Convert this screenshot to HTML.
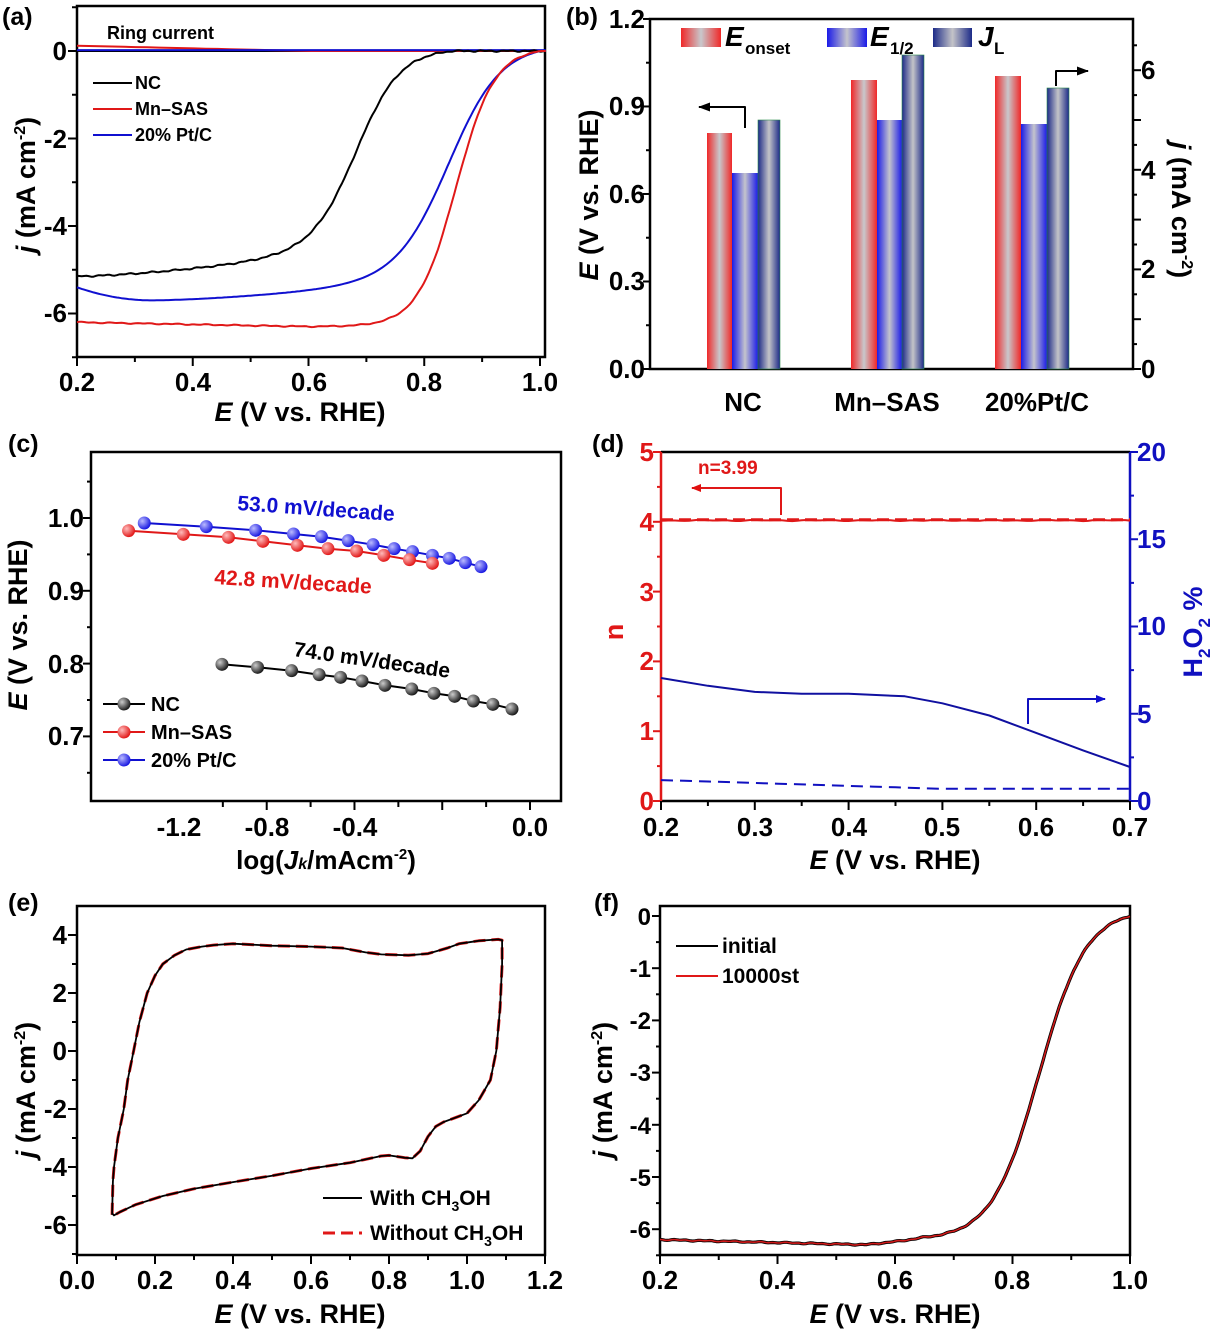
<!DOCTYPE html>
<html><head><meta charset="utf-8"><style>
html,body{margin:0;padding:0;background:#fff;}
svg{display:block;font-family:"Liberation Sans",Arial,sans-serif;font-weight:bold;}
</style></head><body>
<svg id="s" width="1216" height="1333" viewBox="0 0 1216 1333" xmlns="http://www.w3.org/2000/svg">
<defs>
<linearGradient id="gr" x1="0" x2="1"><stop offset="0" stop-color="#f02828"/><stop offset="0.5" stop-color="#c8c8cc"/><stop offset="1" stop-color="#f02828"/></linearGradient>
<linearGradient id="gb" x1="0" x2="1"><stop offset="0" stop-color="#1a1ae8"/><stop offset="0.5" stop-color="#c4c4cc"/><stop offset="1" stop-color="#1a1ae8"/></linearGradient>
<linearGradient id="gd" x1="0" x2="1"><stop offset="0" stop-color="#1c2a88"/><stop offset="0.5" stop-color="#c4c4c8"/><stop offset="1" stop-color="#1c2a88"/></linearGradient>
<radialGradient id="mk" cx="0.35" cy="0.35" r="0.7"><stop offset="0" stop-color="#ccc"/><stop offset="1" stop-color="#111"/></radialGradient>
<radialGradient id="mr" cx="0.35" cy="0.35" r="0.7"><stop offset="0" stop-color="#fbb"/><stop offset="1" stop-color="#e01010"/></radialGradient>
<radialGradient id="mb" cx="0.35" cy="0.35" r="0.7"><stop offset="0" stop-color="#bbf"/><stop offset="1" stop-color="#1010e0"/></radialGradient>
<marker id="ahr" markerWidth="10" markerHeight="8" refX="9" refY="4" orient="auto" markerUnits="userSpaceOnUse"><path d="M0,0 L10,4 L0,8 Z" fill="#e01010"/></marker>
<marker id="ahb" markerWidth="10" markerHeight="8" refX="9" refY="4" orient="auto" markerUnits="userSpaceOnUse"><path d="M0,0 L10,4 L0,8 Z" fill="#1010d0"/></marker>
<marker id="ahk" markerWidth="12" markerHeight="9" refX="11" refY="4.5" orient="auto" markerUnits="userSpaceOnUse"><path d="M0,0 L12,4.5 L0,9 Z" fill="#000"/></marker>
</defs>
<g id="dyn"></g>

<!-- Panel letters -->
<g font-size="25">
<text x="2" y="25">(a)</text>
<text x="566" y="25">(b)</text>
<text x="8" y="452">(c)</text>
<text x="592" y="452">(d)</text>
<text x="8" y="911">(e)</text>
<text x="594" y="911">(f)</text>
</g>

<!-- Panel a text -->
<g font-size="26" text-anchor="middle">
<text x="77" y="391">0.2</text><text x="193" y="391">0.4</text><text x="309" y="391">0.6</text><text x="424" y="391">0.8</text><text x="540" y="391">1.0</text>
</g>
<g font-size="26" text-anchor="end">
<text x="67" y="60">0</text><text x="67" y="148">-2</text><text x="67" y="235">-4</text><text x="67" y="322">-6</text>
</g>
<text x="300" y="421" font-size="27" text-anchor="middle"><tspan font-style="italic">E</tspan> (V vs. RHE)</text>
<text transform="translate(35,185) rotate(-90)" font-size="27" text-anchor="middle"><tspan font-style="italic">j</tspan> (mA cm<tspan dy="-10" font-size="16">-2</tspan><tspan dy="10">)</tspan></text>
<text x="107" y="39" font-size="18">Ring current</text>
<g font-size="18"><text x="135" y="89">NC</text><text x="135" y="115">Mn–SAS</text><text x="135" y="141">20% Pt/C</text></g>

<!-- Panel b text -->
<g font-size="26" text-anchor="end">
<text x="645" y="378">0.0</text><text x="645" y="290">0.3</text><text x="645" y="203">0.6</text><text x="645" y="115">0.9</text><text x="645" y="28">1.2</text>
</g>
<g font-size="26">
<text x="1141" y="378">0</text><text x="1141" y="278">2</text><text x="1141" y="179">4</text><text x="1141" y="79">6</text>
</g>
<g font-size="26" text-anchor="middle">
<text x="743" y="411">NC</text><text x="887" y="411">Mn–SAS</text><text x="1037" y="411">20%Pt/C</text>
</g>
<text transform="translate(598,195) rotate(-90)" font-size="27" text-anchor="middle"><tspan font-style="italic">E</tspan> (V vs. RHE)</text>
<text transform="translate(1172,210) rotate(90)" font-size="27" text-anchor="middle"><tspan font-style="italic">j</tspan> (mA cm<tspan dy="-10" font-size="16">-2</tspan><tspan dy="10">)</tspan></text>
<text x="725" y="46" font-size="28" font-style="italic">E</text><text x="745" y="54" font-size="17">onset</text>
<text x="870" y="46" font-size="28" font-style="italic">E</text><text x="890" y="54" font-size="17">1/2</text>
<text x="978" y="46" font-size="28" font-style="italic">J</text><text x="994" y="54" font-size="17">L</text>

<!-- Panel c text -->
<g font-size="26" text-anchor="middle">
<text x="179" y="836">-1.2</text><text x="267" y="836">-0.8</text><text x="355" y="836">-0.4</text><text x="530" y="836" text-anchor="middle">0.0</text>
</g>
<g font-size="26" text-anchor="end">
<text x="84" y="527">1.0</text><text x="84" y="600">0.9</text><text x="84" y="673">0.8</text><text x="84" y="745">0.7</text>
</g>
<text x="326" y="869" font-size="26" text-anchor="middle">log(<tspan font-style="italic">J<tspan font-size="16">k</tspan></tspan>/mAcm<tspan dy="-10" font-size="15">-2</tspan><tspan dy="10">)</tspan></text>
<text transform="translate(27,625) rotate(-90)" font-size="27" text-anchor="middle"><tspan font-style="italic">E</tspan> (V vs. RHE)</text>
<text transform="translate(237,510) rotate(4)" font-size="21" fill="#1010d0">53.0 mV/decade</text>
<text transform="translate(214,584) rotate(3.5)" font-size="21" fill="#e01818">42.8 mV/decade</text>
<text transform="translate(293,656) rotate(8)" font-size="21">74.0 mV/decade</text>
<g font-size="20"><text x="151" y="711">NC</text><text x="151" y="739">Mn–SAS</text><text x="151" y="767">20% Pt/C</text></g>

<!-- Panel d text -->
<g font-size="26" text-anchor="middle">
<text x="661" y="836">0.2</text><text x="755" y="836">0.3</text><text x="849" y="836">0.4</text><text x="942" y="836">0.5</text><text x="1036" y="836">0.6</text><text x="1130" y="836">0.7</text>
</g>
<g font-size="26" text-anchor="end" fill="#e01818">
<text x="654" y="810">0</text><text x="654" y="740">1</text><text x="654" y="670">2</text><text x="654" y="601">3</text><text x="654" y="531">4</text><text x="654" y="461">5</text>
</g>
<g font-size="26" fill="#1010c0">
<text x="1137" y="810">0</text><text x="1137" y="723">5</text><text x="1137" y="635">10</text><text x="1137" y="548">15</text><text x="1137" y="461">20</text>
</g>
<text x="895" y="869" font-size="27" text-anchor="middle"><tspan font-style="italic">E</tspan> (V vs. RHE)</text>
<text transform="translate(623,632) rotate(-90)" font-size="27" text-anchor="middle" fill="#e01818">n</text>
<text transform="translate(1202,632) rotate(-90)" font-size="27" text-anchor="middle" fill="#1010c0">H<tspan dy="8" font-size="17">2</tspan><tspan dy="-8">O</tspan><tspan dy="8" font-size="17">2</tspan><tspan dy="-8"> %</tspan></text>
<text x="698" y="474" font-size="19" fill="#e01818">n=3.99</text>

<!-- Panel e text -->
<g font-size="26" text-anchor="middle">
<text x="77" y="1289">0.0</text><text x="155" y="1289">0.2</text><text x="233" y="1289">0.4</text><text x="311" y="1289">0.6</text><text x="389" y="1289">0.8</text><text x="467" y="1289">1.0</text><text x="545" y="1289">1.2</text>
</g>
<g font-size="26" text-anchor="end">
<text x="67" y="944">4</text><text x="67" y="1002">2</text><text x="67" y="1060">0</text><text x="67" y="1118">-2</text><text x="67" y="1176">-4</text><text x="67" y="1234">-6</text>
</g>
<text x="300" y="1323" font-size="27" text-anchor="middle"><tspan font-style="italic">E</tspan> (V vs. RHE)</text>
<text transform="translate(35,1090) rotate(-90)" font-size="27" text-anchor="middle"><tspan font-style="italic">j</tspan> (mA cm<tspan dy="-10" font-size="16">-2</tspan><tspan dy="10">)</tspan></text>
<text x="370" y="1205" font-size="21">With CH<tspan dy="6" font-size="14">3</tspan><tspan dy="-6">OH</tspan></text>
<text x="370" y="1240" font-size="21">Without CH<tspan dy="6" font-size="14">3</tspan><tspan dy="-6">OH</tspan></text>

<!-- Panel f text -->
<g font-size="24" text-anchor="end">
<text x="651" y="925">0</text><text x="651" y="977">-1</text><text x="651" y="1029">-2</text><text x="651" y="1081">-3</text><text x="651" y="1134">-4</text><text x="651" y="1186">-5</text><text x="651" y="1238">-6</text>
</g>
<g font-size="26" text-anchor="middle">
<text x="660" y="1289">0.2</text><text x="777" y="1289">0.4</text><text x="895" y="1289">0.6</text><text x="1012" y="1289">0.8</text><text x="1130" y="1289">1.0</text>
</g>
<text x="895" y="1323" font-size="27" text-anchor="middle"><tspan font-style="italic">E</tspan> (V vs. RHE)</text>
<text transform="translate(612,1090) rotate(-90)" font-size="27" text-anchor="middle"><tspan font-style="italic">j</tspan> (mA cm<tspan dy="-10" font-size="16">-2</tspan><tspan dy="10">)</tspan></text>
<g font-size="21"><text x="722" y="953">initial</text><text x="722" y="983">10000st</text></g>
</svg>
<script>
(function(){
var NS="http://www.w3.org/2000/svg",g=document.getElementById("dyn");
function el(t,a){var e=document.createElementNS(NS,t);for(var k in a)e.setAttribute(k,a[k]);g.appendChild(e);return e;}
function line(x1,y1,x2,y2,c,w,extra){var a={x1:x1,y1:y1,x2:x2,y2:y2,stroke:c||"#000","stroke-width":w||2};if(extra)for(var k in extra)a[k]=extra[k];return el("line",a);}
function path(pts,c,w,extra){var d="";pts.forEach(function(p,i){d+=(i?"L":"M")+p[0].toFixed(1)+","+p[1].toFixed(1);});var a={d:d,fill:"none",stroke:c,"stroke-width":w||2,"stroke-linejoin":"round"};if(extra)for(var k in extra)a[k]=extra[k];return el("path",a);}
function fn(f,X,Y,a,b,n,c,w,extra){var p=[];for(var i=0;i<=n;i++){var E=a+(b-a)*i/n;p.push([X(E),Y(f(E))]);}return path(p,c,w,extra);}
function sig(E,c,w){return 1/(1+Math.exp((E-c)/w));}
function noise(E,s,a){return a*Math.sin(E*s)*Math.sin(E*s*2.7);}
function box(x1,y1,x2,y2,c){el("rect",{x:x1,y:y1,width:x2-x1,height:y2-y1,fill:"none",stroke:c||"#000","stroke-width":2.5});}
var S=2.6133;

// ===== Panel a =====
var Xa=function(E){return 77+(E-0.2)*578.75},Ya=function(j){return 51-j*43.75};
box(77,6,545,357);
for(var k=0;k<=8;k++){var x=Xa(0.2+k*0.1);line(x,357,x,(k%2==0)?366:362);}
for(var j=0;j>=-7;j--){line(77,Ya(j),(j%2==0)?68:72,Ya(j));}
line(77,Ya(1),72,Ya(1));
fn(function(E){return 0;},Xa,Ya,0.2,1.01,10,"#000",2);
fn(function(E){return E<0.6?0.12*(0.6-E)/0.4:0;},Xa,Ya,0.2,1.01,40,"#e01818",2);
fn(function(E){return 0.02;},Xa,Ya,0.2,1.01,10,"#1010d0",2);
fn(function(E){var L=-5.15+0.9*Math.pow(E-0.2,1.5)*2.2;return L*(sig(E,0.685,0.038)-sig(0.85,0.685,0.038))/(1-sig(0.85,0.685,0.038))*(E>0.85?0:1)+noise(E,90,0.02);},Xa,Ya,0.2,1.01,200,"#000",2);
fn(function(E){var L=E<0.33?-5.7+17.7*Math.pow(E-0.33,2):-5.7+1.5*Math.pow(E-0.33,1.5);var s0=sig(1.0,0.845,0.045);var s=(sig(E,0.845,0.045)-s0)/(1-s0);return E>1.0?0:L*s;},Xa,Ya,0.2,1.01,200,"#1010d0",2);
fn(function(E){var L=-6.2-0.1*Math.min(1,(E-0.2)/0.4);var s0=sig(1.0,0.855,0.033);var s=(sig(E,0.855,0.033)-s0)/(1-s0);return E>1.0?0:L*s+noise(E,70,0.015);},Xa,Ya,0.2,1.01,200,"#e01818",2);
line(93,83,132,83,"#000",2);line(93,109,132,109,"#e01818",2);line(93,135,132,135,"#1010d0",2);

// ===== Panel b =====
box(650,19,1133,369);
var Yl=function(v){return 369-v*291.7},Yr=function(j){return 369-j*49.8};
for(var k=0;k<=8;k++){var y=Yl(k*0.15);line(650,y,k%2==0?643:646,y);}
for(var k=0;k<=13;k++){var y=Yr(k*0.5);if(y<19)break;line(1133,y,(k%2==0)?1141:1137,y);}
function bar(x1,x2,top,id){el("rect",{x:x1,y:top,width:x2-x1,height:369-top,fill:"url(#"+id+")",stroke:id=="gd"?"#2a8a4a":"none","stroke-width":0.6});}
bar(707,732,133,"gr");bar(732,758,173,"gb");bar(758,780,120,"gd");
bar(851,877,80,"gr");bar(877,902,120,"gb");bar(902,924,55,"gd");
bar(995,1021,76,"gr");bar(1021,1047,124,"gb");bar(1047,1069,88,"gd");
el("rect",{x:681,y:28,width:40,height:19,fill:"url(#gr)"});
el("rect",{x:827,y:28,width:40,height:19,fill:"url(#gb)"});
el("rect",{x:933,y:28,width:39,height:19,fill:"url(#gd)"});
path([[745,128],[745,107],[699,107]],"#000",2,{"marker-end":"url(#ahk)"});
path([[1056,86],[1056,71],[1088,71]],"#000",2,{"marker-end":"url(#ahk)"});

// ===== Panel c =====
box(91,452,561,801);
var Xc=function(L){return 530+L*219.4},Yc=function(E){return 518-(E-1.0)*728};
for(var k=-7;k<=0;k++){var x=Xc(k*0.2);line(x,801,x,(k%2==0)?810:807);}
for(var k=1;k<=9;k++){var y=Yc(0.6+k*0.05);if(y<452)break;line(91,y,(k%2==0)?83:87,y);}
function series(xs,ys,c,m){var p=xs.map(function(x,i){return [x/S,420+ys[i]/3];});path(p,c,2);p.forEach(function(q){el("circle",{cx:q[0],cy:q[1],r:6.5,fill:"url(#"+m+")"});});}
series([377,539,668,767,840,910,975,1030,1078,1130,1174,1216,1257],[309,320,331,342,350,362,374,386,395,406,415,428,440],"#1010d0","mb");
series([336,479,597,687,777,857,932,1003,1070,1130],[332,343,352,364,376,386,393,406,419,430],"#e01818","mr");
series([580,673,762,834,890,946,1006,1076,1134,1188,1237,1288,1338],[733,742,752,764,772,783,796,807,820,829,843,853,867],"#000","mk");
[["#000","mk",704],["#e01818","mr",732],["#1010d0","mb",760]].forEach(function(a){line(103,a[2],145,a[2],a[0],2);el("circle",{cx:124,cy:a[2],r:6.5,fill:"url(#"+a[1]+")"});});

// ===== Panel d =====
var Xd=function(E){return 661+(E-0.2)*938},Yn=function(n){return 801-n*69.8},Yh=function(h){return 801-h*17.45};
line(661,452,1130,452,"#000",2.5);line(661,801,1130,801,"#000",2.5);
line(661,452,661,801,"#e01818",2.5);line(1130,452,1130,801,"#1010c0",2.5);
for(var k=0;k<=10;k++){var y=Yn(k*0.5);line(661,y,(k%2==0)?653:657,y,"#e01818",2);}
for(var k=0;k<=8;k++){var y=Yh(k*2.5);line(1130,y,(k%2==0)?1138:1134,y,"#1010c0",2);}
for(var k=0;k<=10;k++){var x=Xd(0.2+k*0.05);line(x,801,x,(k%2==0)?810:806);}
fn(function(E){return 4.02+noise(E,60,0.01);},Xd,Yn,0.2,0.7,100,"#e01818",2);
fn(function(E){return 4.03;},Xd,Yn,0.2,0.7,10,"#e01818",3,{"stroke-dasharray":"12,6"});
var hp=[[0.2,7.05],[0.25,6.6],[0.3,6.25],[0.35,6.15],[0.4,6.15],[0.46,6.0],[0.5,5.6],[0.55,4.9],[0.6,3.9],[0.65,2.9],[0.7,1.95]];
path(hp.map(function(p){return [Xd(p[0]),Yh(p[1])];}),"#1010a0",2);
fn(function(E){return E<0.5?1.2-0.5*(E-0.2)/0.3:0.7;},Xd,Yh,0.2,0.7,20,"#1010c0",2,{"stroke-dasharray":"12,7"});
path([[781,515],[781,488],[692,488]],"#e01818",2,{"marker-end":"url(#ahr)"});
path([[1028,724],[1028,699],[1105,699]],"#1010c0",2,{"marker-end":"url(#ahb)"});

// ===== Panel e =====
box(77,906,545,1255);
var Xe=function(E){return 77+E*390},Ye=function(j){return 1051-j*29};
for(var k=0;k<=12;k++){var x=Xe(k*0.1);line(x,1255,x,(k%2==0)?1264:1260);}
for(var k=-7;k<=4;k++){var y=Ye(k);line(77,y,(k%2==0)?68:72,y);}
var cv=[[0.09,-5.65],[0.092,-4.5],[0.095,-4],[0.105,-3],[0.12,-2],[0.13,-1],[0.145,0],[0.16,1],[0.18,2],[0.2,2.6],[0.22,3.0],[0.25,3.3],[0.28,3.5],[0.32,3.6],[0.35,3.65],[0.4,3.7],[0.5,3.63],[0.6,3.6],[0.68,3.55],[0.74,3.4],[0.78,3.33],[0.85,3.3],[0.9,3.36],[0.95,3.55],[0.98,3.7],[1.03,3.8],[1.08,3.85],[1.09,3.82],[1.09,3.0],[1.085,1.5],[1.075,0],[1.06,-1],[1.03,-1.7],[1.0,-2.15],[0.97,-2.3],[0.94,-2.45],[0.92,-2.6],[0.9,-2.95],[0.88,-3.45],[0.86,-3.7],[0.84,-3.68],[0.8,-3.6],[0.78,-3.62],[0.7,-3.85],[0.6,-4.05],[0.5,-4.3],[0.4,-4.52],[0.3,-4.75],[0.22,-5.0],[0.15,-5.3],[0.11,-5.55],[0.095,-5.67],[0.09,-5.6]];
var cp=cv.map(function(p){return [Xe(p[0]),Ye(p[1])];});
path(cp,"#e01818",3,{"stroke-dasharray":"12,6"});
path(cp,"#000",1.8);
line(323,1198,362,1198,"#000",2);line(323,1233,362,1233,"#e01818",3,{"stroke-dasharray":"12,6"});

// ===== Panel f =====
box(660,906,1130,1255);
var Xf=function(E){return 660+(E-0.2)*587.5},Yf=function(j){return 916-j*52.2};
for(var k=0;k<=8;k++){var x=Xf(0.2+k*0.1);line(x,1255,x,(k%2==0)?1264:1260);}
for(var k=0;k<=13;k++){var y=Yf(-k*0.5);line(660,y,(k%2==0)?652:656,y);}
var ff=function(E){var L=-6.2-0.1*Math.min(1,(E-0.2)/0.35)+(E>0.55?0.1*Math.min(1,(E-0.55)/0.1):0);var s0=sig(1.0,0.845,0.04);var s=(sig(E,0.845,0.04)-s0)/(1-s0);return L*s+noise(E,80,0.012);};
fn(ff,Xf,Yf,0.2,1.0,200,"#000",3.2);
fn(ff,Xf,Yf,0.2,1.0,200,"#d01818",1.6);
line(676,946,718,946,"#000",2);line(676,976,718,976,"#e01818",2);
})();
</script>
</body></html>
